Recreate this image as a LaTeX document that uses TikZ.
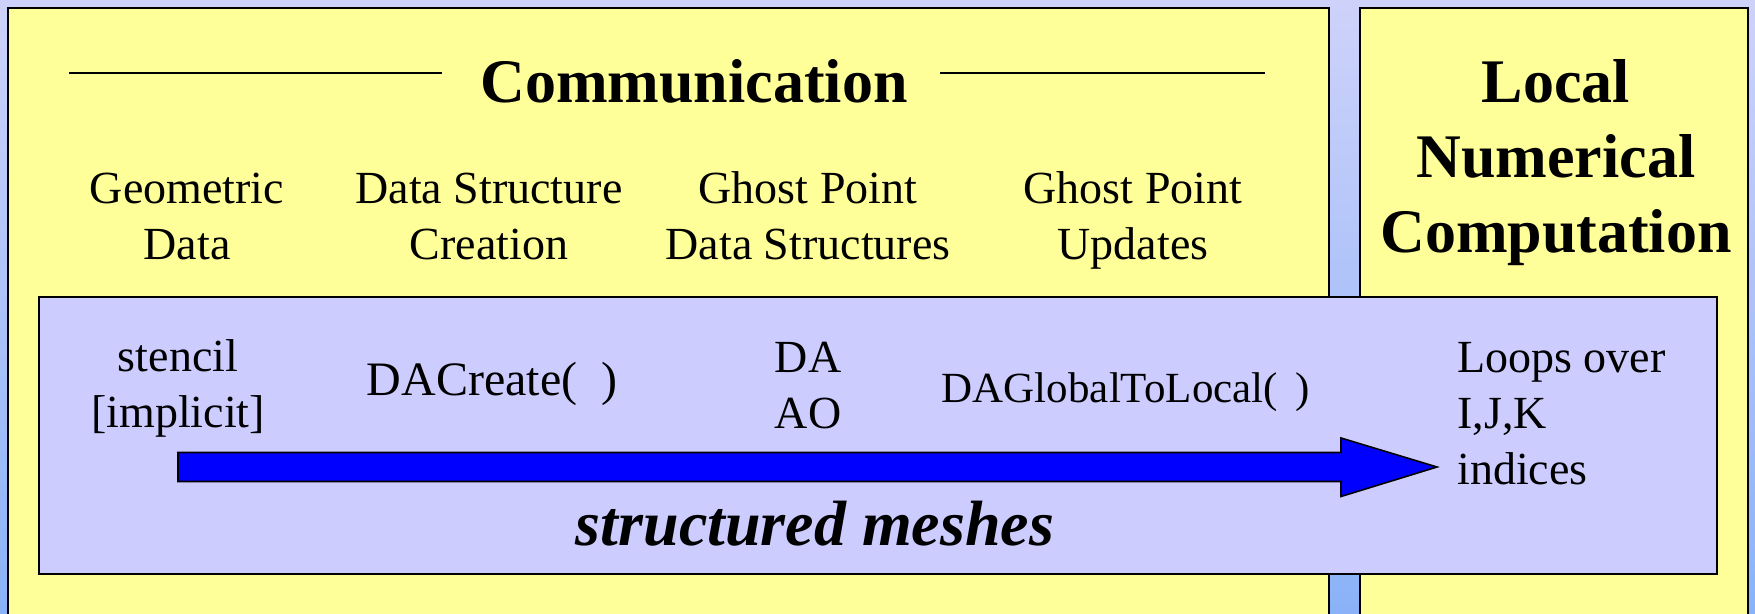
\documentclass[tikz,border=0pt]{standalone}
\usepackage{fontspec}
\setmainfont{Liberation Serif}
\usetikzlibrary{positioning}
\definecolor{bgtop}{RGB}{206,210,250}
\definecolor{bgbot}{RGB}{138,178,248}
\definecolor{padyellow}{RGB}{255,255,153}
\definecolor{meshlilac}{RGB}{204,204,255}
\definecolor{flowblue}{RGB}{0,0,255}

\begin{document}
\begin{tikzpicture}[x=0.5pt,y=-0.5pt,
        panel/.style={draw=black,line width=1.1pt,fill=padyellow},
        band/.style={draw=black,line width=0.9pt,fill=meshlilac},
        rule/.style={line width=1pt},
        head/.style={font=\fontsize{23}{28}\selectfont,align=center},
        title/.style={font=\fontsize{31}{37.5}\selectfont\bfseries,align=center},
        every node/.style={inner sep=0pt}]

    \clip (0,0) rectangle (1755,614);
    \shade[top color=bgtop,bottom color=bgbot] (0,0) rectangle (1755,614);

    % yellow panels and the lilac band over them
    \draw[panel] (8,8) rectangle (1329,650);
    \draw[panel] (1360,8) rectangle (1748,650);
    \draw[band] (39,297) rectangle (1717,574);

    \node[title] (comm) at (694,81) {Communication};
    \draw[rule] (69,73) -- (442,73);
    \draw[rule] (940,73) -- (1265,73);
    \node[title] (local) at (1556,163) {Local\\Numerical\\Computation};

    \node[head] (geo)   at (187,216) {Geometric\\Data};
    \node[head] (dsc)   at (489,216) {Data Structure\\Creation};
    \node[head] (gpds)  at (808,216) {Ghost Point\\Data Structures};
    \node[head] (gpu)   at (1133,220) {Ghost Point\\Updates};

    \node[head] (stencil) at (178,388) {stencil\\{[implicit]}};
    \node[head,font=\fontsize{24}{28}\selectfont] (create) at (492,384) {DACreate(\ \ )};
    \node[head] (da)      at (808,386) {DA\\AO};
    \node[head,font=\fontsize{21.5}{28}\selectfont] (g2l) at (1126,392) {DAGlobalToLocal(\ \,)};
    \node[head,align=left,anchor=west] (loops) at (1457,414) {Loops over\\I,J,K\\indices};

    % the flow arrow
    \coordinate (from) at (178,467);
    \coordinate (to) at (1437,467);
    \filldraw[draw=black,line width=0.8pt,fill=flowblue]
        (from) ++(0,-14.5) -- ++(1163,0) -- ++(0,-14.5) -- (to)
        -- ++(-96,29.5) -- ++(0,-15) -- ++(-1163,0) -- cycle;

    \node[title,font=\fontsize{32}{37.5}\selectfont\bfseries\itshape] (mesh) at (815,524) {structured meshes};
\end{tikzpicture}
\end{document}
